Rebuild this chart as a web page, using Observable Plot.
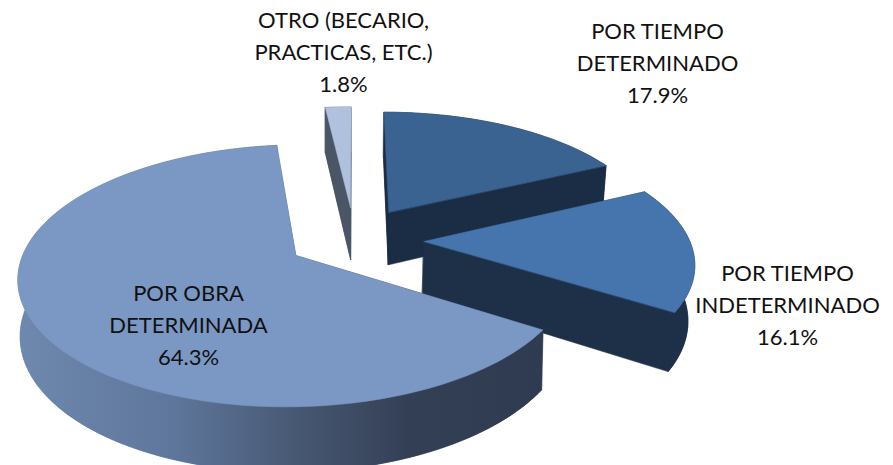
<!DOCTYPE html>
<html><head><meta charset="utf-8">
<script src="https://cdn.jsdelivr.net/npm/d3@7"></script>
<script src="https://cdn.jsdelivr.net/npm/@observablehq/plot@0.6"></script>
<style>html,body{margin:0;padding:0;background:#fff;overflow:hidden}svg{display:block}</style>
</head><body><div id="chart"></div>
<script>
const categories = ["POR TIEMPO\nDETERMINADO","POR TIEMPO\nINDETERMINADO","POR OBRA\nDETERMINADA","OTRO (BECARIO,\nPRACTICAS, ETC.)"];
const shares = [17.9,16.1,64.3,1.8];
const topColors = ["#3a6392","#4675ae","#7b98c5","#b0c1dd"];
const wallColors = ["#1b2d45","#1e3048","url(#wall3)","#4a5566"];
const drawOrder = [3,0,1,2];
const labelX = [657,787,188,343];
const labelY = [60,302,322,49];
const explodes = [0.27,0.27,0.24,0.27];
const radii = [1,0.99,1,1.02];
const shiftX = [0,0,0,3];
const lowScale = [0.985,0.98,0.993,1];

// Perspective view of the pie
const W=893,H=465,vx=351,cy=239,R=268,kR=123,p=0.152,d0=54;
function project(theta,r,mid,low,i){
  const e=explodes[i], rr=r*radii[i];
  const X=e*Math.sin(mid)+rr*Math.sin(theta), Y=-e*Math.cos(mid)-rr*Math.cos(theta), w=1-p*Y;
  return {x:vx+shiftX[i]+(R*X/w)*(low?lowScale[i]:1), y:cy+kR*Y/w+(low?d0/w:0)};
}
const total=d3.sum(shares);
let acc=0;
const slices=shares.map((v,i)=>{const a0=acc/total*2*Math.PI;acc+=v;const a1=acc/total*2*Math.PI;return {i,a0,a1,mid:(a0+a1)/2};});
function arc(s,low){const n=Math.max(4,Math.ceil((s.a1-s.a0)*40));return d3.range(n+1).map(k=>project(s.a0+(s.a1-s.a0)*k/n,1,s.mid,low,s.i));}
const faces=[];
for(const i of drawOrder){
  const s=slices[i],c=wallColors[i];
  const ct=project(0,0,s.mid,false,i),cb=project(0,0,s.mid,true,i);
  const top=arc(s,false),bot=arc(s,true);
  faces.push({fill:c,pts:[cb,...bot]});
  faces.push({fill:c,pts:[...top,...bot.slice().reverse()]});
  faces.push({fill:c,pts:[ct,top[0],bot[0],cb]});
  faces.push({fill:c,pts:[ct,top[top.length-1],bot[bot.length-1],cb]});
  faces.push({fill:topColors[i],pts:[ct,...top]});
}
const defs=()=>{
  const d=d3.create("svg:defs");
  const g=d.append("linearGradient").attr("id","wall3").attr("gradientUnits","userSpaceOnUse").attr("x1",18).attr("x2",540).attr("y1",0).attr("y2",0);
  [[0,"#6f88ae"],[0.3,"#5e769b"],[0.55,"#465670"],[0.75,"#333f55"],[1,"#2f3b50"]].forEach(([o,c])=>g.append("stop").attr("offset",o).attr("stop-color",c));
  return d.node();
};
const labels=categories.map((c,i)=>({text:c+"\n"+shares[i].toFixed(1)+"%",x:labelX[i],y:labelY[i]}));
const chart=Plot.plot({
  width:W,height:H,margin:0,
  x:{domain:[0,W],range:[0,W],axis:null},
  y:{domain:[0,H],range:[0,H],axis:null},
  marks:[
    defs,
    ...faces.map(f=>Plot.line(f.pts,{x:"x",y:"y",fill:f.fill,stroke:f.fill,strokeWidth:0.5,curve:"linear-closed"})),
    Plot.text(labels,{x:"x",y:"y",text:"text",fontSize:22,lineHeight:1.47,fontFamily:"Lato",fill:"#111",textAnchor:"middle"})
  ]
});
document.getElementById("chart").append(chart);
</script></body></html>
